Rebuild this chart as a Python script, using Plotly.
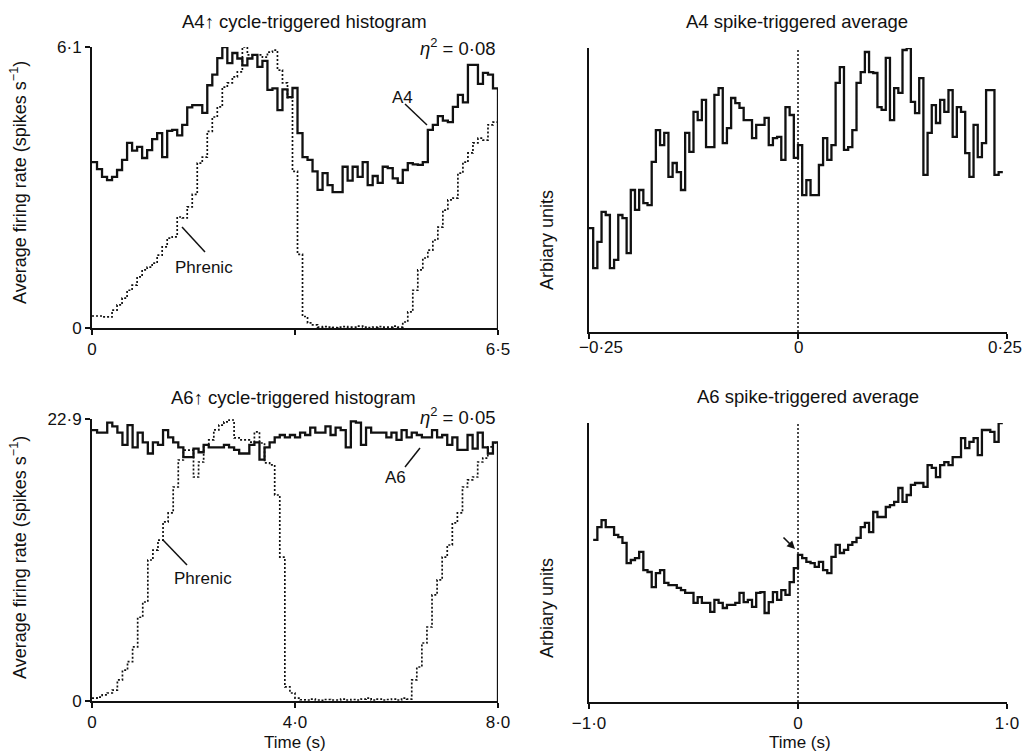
import numpy as np
import plotly.graph_objects as go

# ---------------- data ----------------
# Panel A: A4 cycle-triggered histogram (0-6.5 s, 81 bins)
a4_cycle_dur = 6.5
a4_cycle = [3.60, 3.45, 3.28, 3.21, 3.28, 3.43, 3.65, 4.02, 3.85, 3.93,
            3.69, 3.86, 4.10, 4.23, 3.71, 4.28, 4.30, 4.18, 4.41, 4.79,
            4.84, 4.84, 4.67, 5.27, 5.50, 5.86, 6.10, 5.75, 5.97, 5.85,
            5.70, 5.85, 5.93, 5.67, 5.80, 5.17, 5.20, 4.73, 5.18, 5.01,
            5.21, 4.23, 3.71, 3.65, 3.40, 3.00, 3.36, 3.10, 2.95, 2.95,
            3.50, 3.20, 3.50, 3.28, 3.60, 3.10, 3.30, 3.15, 3.50, 3.47,
            3.25, 3.15, 3.43, 3.58, 3.55, 3.54, 3.60, 4.30, 4.41, 4.60,
            4.50, 4.47, 4.80, 5.06, 4.90, 5.71, 5.71, 5.30, 5.54, 5.50,
            5.20]
a4_phrenic = [0.26, 0.26, 0.24, 0.24, 0.39, 0.50, 0.65, 0.82, 0.93, 1.11,
              1.26, 1.32, 1.41, 1.58, 1.76, 1.95, 1.98, 2.41, 2.39, 2.63,
              2.90, 3.58, 3.71, 4.27, 4.58, 4.80, 5.23, 5.32, 5.45, 5.56,
              6.10, 5.93, 5.93, 5.93, 5.88, 5.99, 6.03, 5.60, 5.32, 5.00,
              3.40, 1.60, 0.25, 0.11, 0.07, 0.02, 0.03, 0.02, 0.01, 0.02,
              0.03, 0.02, 0.02, 0.04, 0.02, 0.01, 0.02, 0.03, 0.02, 0.02,
              0.04, 0.02, 0.13, 0.35, 0.82, 1.26, 1.52, 1.69, 1.91, 2.19,
              2.56, 2.78, 2.82, 3.36, 3.60, 3.80, 4.02, 4.12, 4.08, 4.41,
              4.47]

# Panel B: A4 spike-triggered average (arbitrary units, -0.25..0.25 s, 5 ms bins)
a4_sta_start = -0.25
a4_sta_bin = 0.005
a4_sta_ticks = [-0.25, 0, 0.25]
a4_sta_ticklabels = ["−0·25", "0", "0·25"]
a4_sta = [36.6, 22.5, 31.7, 42.3, 41.2, 22.5, 25.4, 41.2, 40.1, 27.8,
          50.0, 43.0, 50.0, 45.4, 44.7, 59.9, 71.1, 65.8, 70.1, 54.6,
          59.5, 56.3, 50.0, 70.1, 63.4, 77.5, 74.6, 81.7, 65.1, 65.1,
          83.5, 85.9, 66.5, 71.8, 82.4, 80.6, 78.9, 74.6, 74.6, 68.3,
          72.9, 72.9, 75.4, 65.8, 68.3, 68.7, 60.6, 79.2, 76.4, 61.3,
          65.8, 48.2, 53.5, 48.2, 48.2, 58.8, 68.3, 60.6, 65.8, 87.7,
          93.3, 64.1, 65.1, 71.1, 87.7, 91.5, 98.6, 91.5, 91.2, 79.2,
          78.2, 96.5, 74.6, 85.9, 84.2, 99.3, 100.0, 81.0, 77.1, 89.4,
          55.3, 70.1, 79.9, 73.6, 81.7, 77.5, 85.2, 68.7, 79.2, 77.5,
          63.0, 54.6, 72.9, 61.6, 66.5, 85.2, 85.2, 55.3, 56.3]

# Panel C: A6 cycle-triggered histogram (0-8 s, 80 bins)
a6_cycle_dur = 8.0
a6_cycle = [22.0, 21.8, 21.8, 22.6, 22.3, 21.8, 20.8, 22.4, 20.6, 21.8,
            21.0, 20.1, 21.0, 20.8, 22.0, 21.4, 21.0, 20.6, 19.8, 19.8,
            20.5, 20.2, 20.8, 20.6, 20.6, 20.6, 20.8, 20.6, 20.4, 20.1,
            20.1, 20.8, 21.0, 19.6, 20.6, 21.0, 21.4, 21.6, 21.4, 21.6,
            21.4, 21.8, 21.6, 22.2, 21.8, 21.8, 22.3, 21.6, 22.2, 22.0,
            20.6, 22.7, 22.6, 20.8, 22.2, 21.8, 21.8, 21.8, 21.4, 21.8,
            21.2, 22.0, 21.4, 21.8, 21.6, 21.4, 21.4, 22.0, 21.4, 21.6,
            20.8, 21.4, 20.4, 20.4, 21.6, 20.5, 21.8, 20.6, 20.1, 21.0]
a6_phrenic = [0.24, 0.32, 0.49, 0.65, 0.89, 1.71, 2.50, 3.20, 4.40, 6.80,
              8.04, 11.45, 12.26, 13.07, 14.54, 15.27, 17.38, 19.57, 20.38, 20.38,
              18.19, 19.41, 20.79, 21.20, 22.01, 22.41, 22.66, 22.82, 21.36, 21.20,
              21.20, 21.03, 21.85, 20.95, 19.33, 19.17, 16.73, 11.69, 1.14, 0.65,
              0.24, 0.10, 0.08, 0.16, 0.08, 0.05, 0.12, 0.08, 0.08, 0.16,
              0.08, 0.12, 0.08, 0.16, 0.24, 0.08, 0.16, 0.08, 0.12, 0.16,
              0.08, 0.24, 0.16, 1.71, 2.76, 4.71, 6.01, 8.61, 9.83, 11.69,
              12.67, 14.46, 15.27, 17.38, 17.95, 18.19, 19.41, 19.73, 20.63, 20.95]

# Panel D: A6 spike-triggered average (arbitrary units, -0.98..0.98 s, 20 ms bins)
a6_sta_start = -0.98
a6_sta_bin = 0.02
a6_sta = [58.1, 62.7, 65.2, 62.7, 62.7, 59.9, 59.1, 57.0, 49.8, 50.9,
          51.6, 53.8, 47.3, 46.6, 41.2, 46.2, 47.3, 42.7, 41.9, 41.9,
          40.9, 40.1, 39.1, 39.1, 35.5, 37.6, 35.5, 35.5, 32.3, 36.6,
          35.5, 33.7, 34.8, 34.8, 35.5, 39.1, 35.8, 36.6, 34.1, 39.1,
          39.4, 31.9, 35.8, 39.4, 36.6, 40.1, 38.4, 43.0, 48.0, 52.7,
          51.6, 50.2, 49.8, 48.4, 50.2, 47.3, 46.2, 52.0, 56.3, 53.4,
          54.5, 56.3, 57.3, 58.8, 62.7, 64.2, 60.9, 68.1, 66.3, 66.3,
          69.9, 70.6, 71.7, 76.7, 71.7, 74.2, 77.8, 78.5, 78.5, 77.1,
          84.9, 83.9, 80.6, 84.9, 86.0, 84.9, 87.8, 87.8, 94.6, 91.0,
          93.2, 94.6, 88.5, 97.5, 97.5, 96.8, 93.2, 100.0]

# ---------------- helpers ----------------
W, H = 1024, 753
FONT = "Liberation Sans, Arial, Helvetica, sans-serif"
INK = "#111111"


def px(x):
    return x / W


def py(y):
    return 1 - y / H


def steps(start, width, vals, drop=False):
    n = len(vals)
    xs = [start + width * i for i in range(n)] + [start + width * n]
    ys = list(vals) + [vals[-1]]
    if drop:
        xs.append(xs[-1])
        ys.append(0)
    return xs, ys


fig = go.Figure()

solid = dict(color=INK, width=2.3, shape="hv")
dotted = dict(color=INK, width=1.7, shape="hv", dash="2px,2px")

# Panel A
x, y = steps(0, a4_cycle_dur / len(a4_cycle), a4_phrenic)
fig.add_trace(go.Scatter(x=x, y=y, mode="lines", line=dotted, xaxis="x", yaxis="y"))
x, y = steps(0, a4_cycle_dur / len(a4_cycle), a4_cycle, drop=True)
fig.add_trace(go.Scatter(x=x, y=y, mode="lines", line=solid, xaxis="x", yaxis="y"))

# Panel B
x, y = steps(a4_sta_start, a4_sta_bin, a4_sta)
fig.add_trace(go.Scatter(x=x, y=y, mode="lines", line=solid, xaxis="x2", yaxis="y2"))

# Panel C
x, y = steps(0, a6_cycle_dur / len(a6_cycle), a6_phrenic)
fig.add_trace(go.Scatter(x=x, y=y, mode="lines", line=dotted, xaxis="x3", yaxis="y3"))
x, y = steps(0, a6_cycle_dur / len(a6_cycle), a6_cycle, drop=True)
fig.add_trace(go.Scatter(x=x, y=y, mode="lines", line=solid, xaxis="x3", yaxis="y3"))

# Panel D
x, y = steps(a6_sta_start, a6_sta_bin, a6_sta)
fig.add_trace(go.Scatter(x=x, y=y, mode="lines", line=solid, xaxis="x4", yaxis="y4"))

tickfont = dict(family=FONT, size=17, color=INK)
axcommon = dict(showline=True, linecolor=INK, linewidth=2, showgrid=False,
                zeroline=False, ticks="outside", ticklen=5, tickwidth=1.5,
                tickcolor=INK, tickfont=tickfont, fixedrange=True, automargin=False)

layout = dict(
    width=W, height=H,
    margin=dict(l=0, r=0, t=0, b=0, pad=0),
    paper_bgcolor="white", plot_bgcolor="white",
    showlegend=False,
    xaxis=dict(axcommon, domain=[px(92), px(498)], range=[0, 6.5], anchor="y",
               tickvals=[0, 6.5], ticktext=["0", "6·5"],
               minor=dict(tickvals=[3.25], ticks="outside", ticklen=5,
                          tickwidth=1.5, tickcolor=INK)),
    yaxis=dict(axcommon, domain=[py(328), py(47)], range=[0, 6.1], anchor="x",
               tickvals=[0, 6.1], ticktext=["0", "6·1"]),
    xaxis2=dict(axcommon, domain=[px(589), px(1007)], range=[-0.25, 0.25], anchor="y2",
                tickvals=a4_sta_ticks, showticklabels=False),
    yaxis2=dict(axcommon, domain=[py(332), py(48)], range=[0, 100], anchor="x2",
                ticks="", showticklabels=False),
    xaxis3=dict(axcommon, domain=[px(92), px(498)], range=[0, 8], anchor="y3",
                tickvals=[0, 4, 8], ticktext=["0", "4·0", "8·0"]),
    yaxis3=dict(axcommon, domain=[py(701), py(419)], range=[0, 22.9], anchor="x3",
                tickvals=[0, 22.9], ticktext=["0", "22·9"]),
    xaxis4=dict(axcommon, domain=[px(589), px(1007)], range=[-1, 1], anchor="y4",
                tickvals=[-1, 0, 1], ticktext=["−1·0", "0", "1·0"]),
    yaxis4=dict(axcommon, domain=[py(702), py(423)], range=[0, 100], anchor="x4",
                ticks="", showticklabels=False),
)
fig.update_layout(**layout)

# Tick labels of the A4 spike-triggered average (the last one sits flush with the page edge)
for val, lab, anchor, shift in zip(a4_sta_ticks, a4_sta_ticklabels,
                                   ["center", "center", "right"], [12, 0, 17]):
    fig.add_annotation(text=lab, x=val, xref="x2", y=py(347), yref="paper",
                       showarrow=False, xanchor=anchor, yanchor="middle", xshift=shift,
                       font=tickfont)

# Zero reference lines in the spike-triggered averages
for xr, yr in (("x2", "y2"), ("x4", "y4")):
    fig.add_shape(type="line", xref=xr, yref=yr + " domain", x0=0, x1=0, y0=0, y1=1,
                  line=dict(color=INK, width=1.5, dash="2px,2px"))

# Callout lines
for (x0, y0, x1, y1) in [(405, 104, 427, 125), (182, 227, 205, 252),
                         (163, 540, 187, 565), (405, 467, 420, 448)]:
    fig.add_shape(type="line", xref="paper", yref="paper",
                  x0=px(x0), y0=py(y0), x1=px(x1), y1=py(y1),
                  line=dict(color=INK, width=1.5))


def txt(s, x, y, size=18.5, angle=0, xanchor="center"):
    fig.add_annotation(text=s, x=px(x), y=py(y), xref="paper", yref="paper",
                       showarrow=False, textangle=angle, xanchor=xanchor, yanchor="middle",
                       font=dict(family=FONT, size=size, color=INK))


txt("A4↑ cycle-triggered histogram", 304, 22)
txt("A4 spike-triggered average", 797, 22)
txt("A6↑ cycle-triggered histogram", 293, 397)
txt("A6 spike-triggered average", 808, 396)
txt("<i>η</i><sup>2</sup> = 0·08", 498, 47, xanchor="right")
txt("<i>η</i><sup>2</sup> = 0·05", 498, 416, xanchor="right")
txt("A4", 402, 97, size=17)
txt("Phrenic", 204, 267, size=17)
txt("Phrenic", 203, 578, size=17)
txt("A6", 395, 477, size=17)
txt("Average firing rate (spikes s<sup>−1</sup>)", 18, 183, size=18, angle=-90)
txt("Average firing rate (spikes s<sup>−1</sup>)", 18, 558, size=18, angle=-90)
txt("Arbiary units", 547, 240, size=18, angle=-90)
txt("Arbiary units", 547, 608, size=18, angle=-90)
txt("Time (s)", 295, 742, size=17)
txt("Time (s)", 800, 742, size=17)

# Arrow marking the discontinuity in the A6 spike-triggered average
fig.add_annotation(x=px(795), y=py(549), xref="paper", yref="paper", text="",
                   showarrow=True, ax=-13, ay=-13, arrowhead=2, arrowsize=1,
                   arrowwidth=1.6, arrowcolor=INK)

fig.write_html("out.html", config={"displayModeBar": False},
               post_script="document.body.style.margin='0px';"
                           "document.body.style.overflow='hidden';")
